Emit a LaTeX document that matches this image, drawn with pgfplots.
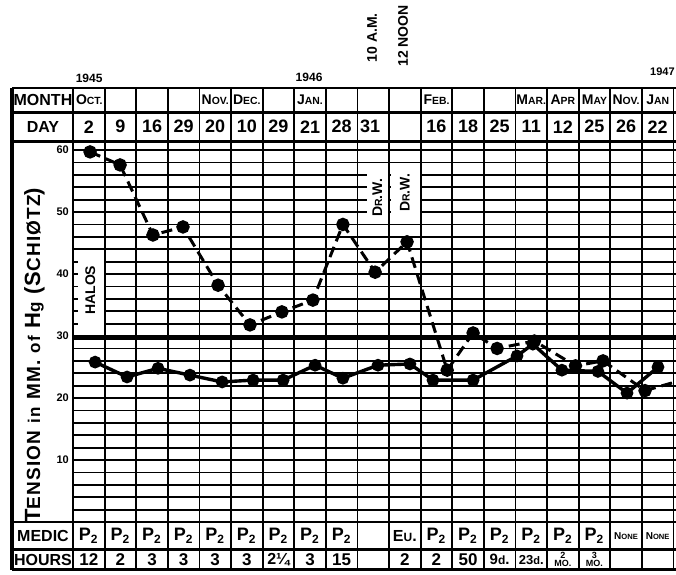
\documentclass[border=0pt]{standalone}
\usepackage{pgfplots}
\pgfplotsset{compat=1.18}
\usepackage{fontspec}
\setmainfont{Liberation Sans}
\newcommand\fs[1]{\fontsize{#1}{#1}\selectfont}
\newcommand\smc[2]{#1{\fs{5.2}#2}}
\begin{document}
\begin{tikzpicture}
\begin{axis}[
  x=15.8pt, y=3.1pt,
  xmin=-2.31, xmax=19.08, ymin=-8.39, ymax=84.2,
  hide axis, clip=true,
]
\coordinate (bl) at (axis cs:-2.31,-8.39);
\coordinate (tr) at (axis cs:19.08,84.2);
% horizontal grid lines
\pgfplotsinvokeforeach{2,4,...,60}{\draw[line width=0.9pt] (axis cs:0,#1) -- (axis cs:19.3,#1);}
% vertical column lines
\pgfplotsinvokeforeach{1,...,19}{\draw[line width=0.9pt] (axis cs:#1,-7.7) -- (axis cs:#1,70);}
\draw[line width=1.4pt] (axis cs:0,-7.7) -- (axis cs:0,70);
\draw[line width=1.6pt] (axis cs:-1.93,-7.7) -- (axis cs:-1.93,70);
% table rules
\pgfplotsinvokeforeach{70,66.1,61.4,0,-4.4,-7.7}{\draw[line width=1.4pt] (axis cs:-1.93,#1) -- (axis cs:19.3,#1);}
% thick reference line
\draw[line width=2.2pt] (axis cs:0,29.7) -- (axis cs:19.3,29.7);
% HALOS box
\fill[white] (axis cs:0.16,31.5) rectangle (axis cs:0.97,43.4);
\draw[line width=0.8pt, dash pattern=on 1.5pt off 1.5pt] (axis cs:1,31.5) -- (axis cs:1,43.4);
\node[rotate=90, font=\fs{7}\bfseries] at (axis cs:0.55,37.4) {HALOS};
% DR. W. boxes
\fill[white] (axis cs:9.30,48.2) rectangle (axis cs:9.97,56.5);
\fill[white] (axis cs:10.05,49.8) rectangle (axis cs:10.97,56.5);
\draw[line width=0.8pt, dash pattern=on 1.5pt off 1.5pt] (axis cs:10,48.2) -- (axis cs:10,56.5);
\draw[line width=0.8pt, dash pattern=on 1.5pt off 1.5pt] (axis cs:11,49.8) -- (axis cs:11,56.5);
\node[rotate=90, font=\fs{7}\bfseries] at (axis cs:9.63,52.3) {D\smc{}{R}.W.};
\node[rotate=90, font=\fs{7}\bfseries] at (axis cs:10.5,53.1) {D\smc{}{R}.W.};
% tick numbers
\pgfplotsinvokeforeach{10,20,30,40,50,60}{\node[anchor=east, font=\fs{5.5}\bfseries, inner sep=0pt] at (axis cs:-0.12,#1) {#1};}
% y label
\node[rotate=90, font=\fs{11}\bfseries] at (axis cs:-1.22,26.9) {\addfontfeature{LetterSpace=6}T\smc{}{\fs{9.5}ENSION} {\fs{8.5}in} \smc{}{\fs{9.5}MM.} {\fs{8.5}of} H{\fs{8.5}g} (S{\fs{9.5}CHIØTZ})};
% row labels
\node[font=\fs{8}\bfseries] at (axis cs:-0.95,68.05) {MONTH};
\node[font=\fs{8}\bfseries] at (axis cs:-0.95,63.75) {DAY};
\node[font=\fs{8}\bfseries] at (axis cs:-0.95,-2.2) {MEDIC};
\node[font=\fs{8}\bfseries] at (axis cs:-0.95,-6.05) {HOURS};
% years and notes
\node[font=\fs{6}\bfseries] at (axis cs:0.51,71.6) {1945};
\node[font=\fs{6}\bfseries] at (axis cs:7.47,71.8) {1946};
\node[anchor=east, font=\fs{5.5}\bfseries, inner sep=0.3pt] at (axis cs:19.07,72.6) {1947};
\node[rotate=90, font=\fs{7}\bfseries] at (axis cs:9.46,78.1) {10 A.M.};
\node[rotate=90, font=\fs{7}\bfseries] at (axis cs:10.44,78.4) {12 NOON};
% months
\node[anchor=west, font=\fs{7}\bfseries, inner sep=1pt] at (axis cs:0.02,68.05) {\smc{O}{CT.}};
\node[font=\fs{7}\bfseries] at (axis cs:4.5,68.05) {\smc{N}{OV.}};
\node[font=\fs{7}\bfseries] at (axis cs:5.5,68.05) {\smc{D}{EC.}};
\node[font=\fs{7}\bfseries] at (axis cs:7.5,68.05) {\smc{J}{AN.}};
\node[anchor=west, font=\fs{7}\bfseries, inner sep=1pt] at (axis cs:11.02,68.05) {\smc{F}{EB.}};
\node[font=\fs{7}\bfseries] at (axis cs:14.5,68.05) {\smc{M}{AR.}};
\node[font=\fs{7}\bfseries] at (axis cs:15.5,68.05) {\smc{A}{PR}};
\node[font=\fs{7}\bfseries] at (axis cs:16.5,68.05) {\smc{M}{AY}};
\node[font=\fs{7}\bfseries] at (axis cs:17.5,68.05) {\smc{N}{OV.}};
\node[font=\fs{7}\bfseries] at (axis cs:18.5,68.05) {\smc{J}{AN}};
% days
\node[font=\fs{9}\bfseries] at (axis cs:0.5,63.75) {2};
\node[font=\fs{9}\bfseries] at (axis cs:1.5,63.75) {9};
\node[font=\fs{9}\bfseries] at (axis cs:2.5,63.75) {16};
\node[font=\fs{9}\bfseries] at (axis cs:3.5,63.75) {29};
\node[font=\fs{9}\bfseries] at (axis cs:4.5,63.75) {20};
\node[font=\fs{9}\bfseries] at (axis cs:5.5,63.75) {10};
\node[font=\fs{9}\bfseries] at (axis cs:6.5,63.75) {29};
\node[font=\fs{9}\bfseries] at (axis cs:7.5,63.75) {21};
\node[font=\fs{9}\bfseries] at (axis cs:8.5,63.75) {28};
\node[font=\fs{9}\bfseries] at (axis cs:9.4,63.75) {31};
\node[font=\fs{9}\bfseries] at (axis cs:11.5,63.75) {16};
\node[font=\fs{9}\bfseries] at (axis cs:12.5,63.75) {18};
\node[font=\fs{9}\bfseries] at (axis cs:13.5,63.75) {25};
\node[font=\fs{9}\bfseries] at (axis cs:14.5,63.75) {11};
\node[font=\fs{9}\bfseries] at (axis cs:15.5,63.75) {12};
\node[font=\fs{9}\bfseries] at (axis cs:16.5,63.75) {25};
\node[font=\fs{9}\bfseries] at (axis cs:17.5,63.75) {26};
\node[font=\fs{9}\bfseries] at (axis cs:18.5,63.75) {22};
% medic
\pgfplotsinvokeforeach{0.5,1.5,2.5,3.5,4.5,5.5,6.5,7.5,8.5,11.5,12.5,13.5,14.5,15.5,16.5}{\node[font=\fs{9}\bfseries] at (axis cs:#1,-2.2) {P\textsubscript{2}};}
\node[font=\fs{8}\bfseries] at (axis cs:10.5,-2.2) {E{\fs{6}U}.};
\node[font=\fs{5}\bfseries] at (axis cs:17.5,-2.2) {N\smc{}{\fs{3.8}ONE}};
\node[font=\fs{5}\bfseries] at (axis cs:18.5,-2.2) {N\smc{}{\fs{3.8}ONE}};
% hours
\node[font=\fs{8.5}\bfseries] at (axis cs:0.5,-6.05) {12};
\node[font=\fs{8.5}\bfseries] at (axis cs:1.5,-6.05) {2};
\node[font=\fs{8.5}\bfseries] at (axis cs:2.5,-6.05) {3};
\node[font=\fs{8.5}\bfseries] at (axis cs:3.5,-6.05) {3};
\node[font=\fs{8.5}\bfseries] at (axis cs:4.5,-6.05) {3};
\node[font=\fs{8.5}\bfseries] at (axis cs:5.5,-6.05) {3};
\node[font=\fs{8}\bfseries] at (axis cs:6.5,-6.05) {2¼};
\node[font=\fs{8.5}\bfseries] at (axis cs:7.5,-6.05) {3};
\node[font=\fs{8.5}\bfseries] at (axis cs:8.5,-6.05) {15};
\node[font=\fs{8.5}\bfseries] at (axis cs:10.5,-6.05) {2};
\node[font=\fs{8.5}\bfseries] at (axis cs:11.5,-6.05) {2};
\node[font=\fs{8.5}\bfseries] at (axis cs:12.5,-6.05) {50};
\node[font=\fs{7.5}\bfseries] at (axis cs:13.5,-6.05) {9{\fs{6}d}.};
\node[font=\fs{6.5}\bfseries] at (axis cs:14.5,-6.05) {23{\fs{5.5}d}.};
\node[font=\fs{4.5}\bfseries, align=center, inner sep=0pt] at (axis cs:15.5,-6.05) {2\\[-0.5pt]MO.};
\node[font=\fs{4.5}\bfseries, align=center, inner sep=0pt] at (axis cs:16.5,-6.05) {3\\[-0.5pt]MO.};
% data: dashed series
\addplot[black, line width=1.5pt, dash pattern=on 5.5pt off 3pt, mark=*, mark size=2.6pt, mark options={solid}] coordinates {
(0.54,59.7) (1.49,57.6) (2.53,46.3) (3.48,47.6) (4.59,38.2) (5.60,31.8) (6.61,33.9) (7.59,35.8) (8.54,48.0) (9.56,40.3) (10.57,45.2) (11.84,24.5) (12.66,30.5) (13.42,28.0) (14.6,29.2) (15.9,25.2) (16.77,26.0) (18.1,21.2)};
\addplot[black, line width=1.5pt, dash pattern=on 5.5pt off 3pt] coordinates {(18.1,21.2) (19.2,22.8)};
% data: solid series
\addplot[black, line width=1.7pt, mark=*, mark size=2.3pt] coordinates {
(0.70,25.8) (1.71,23.4) (2.69,24.8) (3.70,23.7) (4.72,22.6) (5.70,22.9) (6.65,22.9) (7.66,25.3) (8.54,23.2) (9.65,25.3) (10.66,25.5) (11.39,22.9) (12.66,22.9) (14.05,26.8) (14.55,28.7) (15.47,24.5) (16.61,24.3) (17.53,20.8) (18.51,25.0)};
\end{axis}
\pgfresetboundingbox
\path (bl) rectangle (tr);
\end{tikzpicture}
\end{document}
